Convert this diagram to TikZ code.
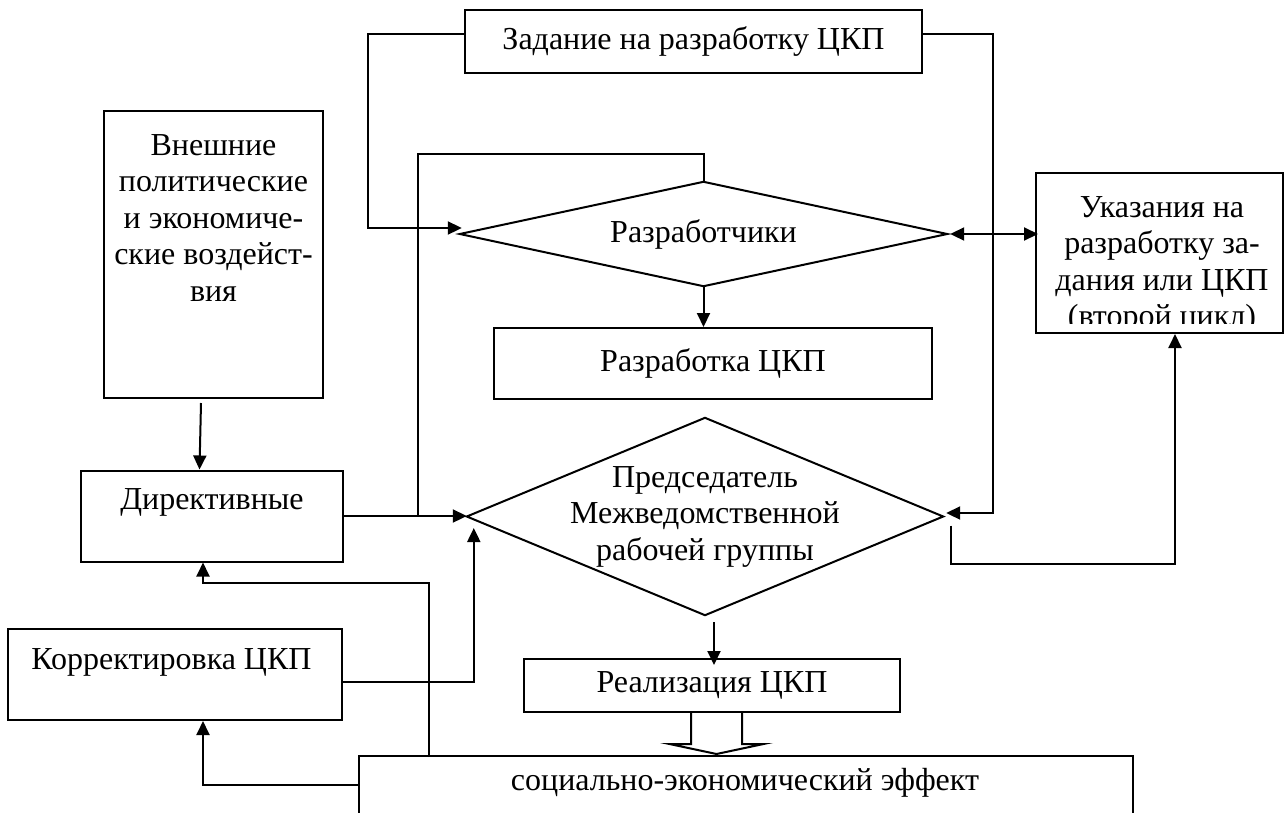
\documentclass[tikz,border=0pt]{standalone}
\usepackage{fontspec}
\setmainfont{Liberation Serif}
\usetikzlibrary{arrows.meta,calc}
\begin{document}
\begin{tikzpicture}[x=1pt,y=-1pt,
  every node/.style={font=\fontsize{32}{36.5}\selectfont},
  box/.style={draw, line width=2pt, rectangle, inner sep=0pt},
  ghost/.style={rectangle, inner sep=0pt, align=center},
  txt/.style={align=center, inner sep=0pt},
  conn/.style={line width=2pt},
  arr/.style={conn, -{Triangle[length=14pt,width=13pt]}},
  arrr/.style={conn, {Triangle[length=14pt,width=13pt]}-{Triangle[length=14pt,width=13pt]}},
]
\clip (0,0) rectangle (1285,812);

% boxes
\node[box, minimum width=457pt, minimum height=63pt] (zad) at (693.5,41.5) {Задание на разработку ЦКП};

\node[box, minimum width=219pt, minimum height=287pt] (vne) at (213.5,254.5) {};
\node[txt] (vnet) at (213.5,218) {Внешние\\политические\\и экономиче-\\ские воздейст-\\вия};

\node[box, minimum width=262pt, minimum height=91pt] (dir) at (212,516) {};
\node[txt] (dirt) at (212,502) {Директивные};

\node[box, minimum width=334pt, minimum height=91pt] (kor) at (175,674.5) {};
\node[txt] (kort) at (171.5,662) {Корректировка ЦКП};

\node[ghost, minimum width=487pt, minimum height=104pt] (raz) at (703.5,234) {Разработчики};
\draw[conn] (raz.west) -- (raz.north) -- (raz.east) -- (raz.south) -- cycle;

\node[box, minimum width=438pt, minimum height=71pt] (rzk) at (713,363.5) {Разработка ЦКП};

\node[ghost, minimum width=476pt, minimum height=197pt] (pred) at (705,516.5) {Председатель\\Межведомственной\\рабочей группы};
\draw[conn] (pred.west) -- (pred.north) -- (pred.east) -- (pred.south) -- cycle;

\node[box, minimum width=247pt, minimum height=160pt] (uk) at (1159.5,253) {};
\begin{scope}
  \clip (uk.north west) rectangle ([yshift=11pt]uk.south east);
  \node[txt] (ukt) at (1162,265) {Указания на\\разработку за-\\дания или ЦКП\\(второй цикл)};
\end{scope}

\node[box, minimum width=376pt, minimum height=53pt] (real) at (712,685.5) {Реализация ЦКП};

\node[box, minimum width=774pt, minimum height=90pt, anchor=north west] (soc) at (358,755) {};
\node[txt] (soct) at (745,783) {социально-экономический эффект};

% connectors
\draw[arr] ([yshift=8pt]zad.west) -- ++(-96,0) |- ([xshift=2pt,yshift=6pt]raz.west);
\draw[arr] ([yshift=8pt]zad.east) -- ++(70,0) |- ([xshift=3pt,yshift=3.5pt]pred.east);
\coordinate (j1) at (418,516);
\draw[conn] (raz.north) -- ++(0,-28) -| (j1);
\draw[arr] (dir.east) -- (dir.east -| pred.west);
\draw[arr] (raz.south) -- (raz.south |- rzk.north);
\draw[arrr] ([xshift=3pt]raz.east) -- ([xshift=3pt]raz.east -| uk.west);
\draw[arr] ([shift={(8pt,-9pt)}]pred.east) -- ++(0,38) -| ([xshift=15.5pt]uk.south);
\draw[arr] ([xshift=9pt,yshift=-7pt]pred.south) -- ([xshift=9pt,yshift=-7pt]pred.south |- real.north);
\draw[arr] ([yshift=-7.5pt]kor.east) -| ([shift={(7pt,-11.5pt)}]pred.west);
\draw[arr] ([yshift=-30pt]soc.north west) -| ([xshift=28pt]kor.south);
\draw[arr] ([shift={(71pt,-2pt)}]soc.north west) -- ++(0,-174) -| ([xshift=-9pt]dir.south);
\draw[arr] ([xshift=-12.5pt,yshift=-4pt]vne.south) -- ([xshift=-12.5pt]dir.north);

% hollow block arrow
\coordinate (ba) at ([xshift=4.5pt]real.south);
\draw[conn, fill=white] ($(ba)+(-25.5,0)$) -- ($(ba)+(-25.5,31)$) -- ($(ba)+(-47,31)$) -- ($(ba)+(0,41)$) -- ($(ba)+(47,31)$) -- ($(ba)+(25.5,31)$) -- ($(ba)+(25.5,0)$);
\end{tikzpicture}
\end{document}
